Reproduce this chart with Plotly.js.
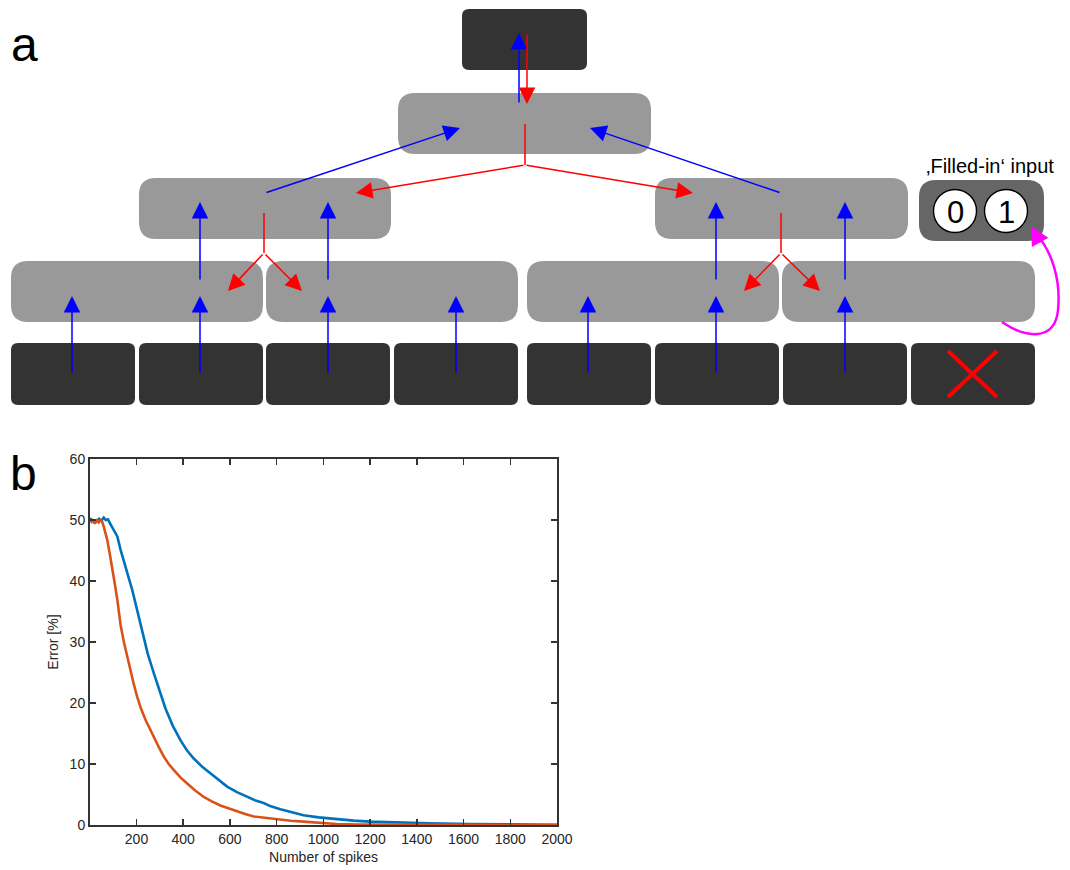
<!DOCTYPE html>
<html><head><meta charset="utf-8">
<script src="https://cdn.plot.ly/plotly-3.0.1.min.js"></script>
<style>html,body{margin:0;padding:0;background:#fff}#chart{width:1070px;height:870px}</style>
</head><body><div id="chart"></div>
<script>
// ---- panel b data ----
var blueX = [1,10,20,30,40,50,60,68,78,89,100,110,118,132,153,170,182,196,210,224,248,274,300,324,355,388,415,445,480,517,550,588,630,673,710,744,772,816,860,915,980,1058,1130,1200,1270,1342,1450,1628,1800,2000];
var blueY = [50.3,50.0,49.6,49.8,50.2,49.9,50.4,50.0,50.1,49.3,48.6,48.0,47.3,45.1,42.3,40.3,38.5,36.3,34.0,31.7,28.1,24.9,21.9,19.1,16.3,13.9,12.3,10.9,9.6,8.5,7.4,6.3,5.4,4.6,4.0,3.6,3.1,2.6,2.1,1.6,1.25,0.93,0.72,0.55,0.45,0.38,0.28,0.16,0.1,0.05];
var orangeX = [1,8,15,22,30,38,45,53,60,68,75,85,96,107,118,132,146,160,174,189,203,220,239,256,274,295,317,338,360,388,417,450,488,520,559,595,631,665,702,772,802,860,915,980,1058,1150,1300,1500,2000];
var orangeY = [50.2,49.7,50.1,49.4,49.9,49.6,50.0,49.7,48.9,47.8,46.7,44.6,42.3,39.6,36.9,32.8,30.0,27.6,25.0,23.0,21.0,19.0,17.2,15.8,14.5,12.8,11.2,10.0,9.0,7.8,6.8,5.7,4.6,3.9,3.2,2.7,2.2,1.8,1.4,1.05,0.9,0.7,0.55,0.35,0.16,0.08,0.04,0.02,0.0];
var xTicks = [200, 400, 600, 800, 1000, 1200, 1400, 1600, 1800, 2000];
var yTicks = [0, 10, 20, 30, 40, 50, 60];

// ---- panel a diagram (pixel coordinates) ----
var darkBoxes = [[462,9,587,70],[11,343,135,405],[139,343,263,405],[266,343,390,405],[394,343,518,405],[527,343,651,405],[655,343,779,405],[783,343,907,405],[911,343,1035,405]];
var grayBoxes = [[398,93,651,154],[139,178,391,239],[655,178,908,239],[11,261,263,322],[266,261,518,322],[527,261,779,322],[782,261,1035,322]];
var filledBox = [919,180,1044,241];
var circles = [[955,211,'0'],[1006,211,'1']];
var blueArrows = [[72,374,72,296],[200,374,200,296],[328,374,328,296],[456,374,456,296],[588,374,588,296],[716,374,716,296],[845,374,845,296],
  [200,281,200,202],[328,281,328,202],[716,281,716,202],[845,281,845,202],
  [265,193,460,128],[781,193,590,128],[519,104,519,33]];
var redArrows = [[527,33,527,104],[525,165,356,193],[525,165,693,193],[264,253,228,291],[264,253,302,291],[781,253,744,291],[781,253,820,291]];
var redLines = [[525,124,525,165],[264,213,264,253],[781,213,781,253]];
var crossLines = [[948,351,997,397],[948,397,997,351]];

function rr(b, r){
  var x0=b[0],y0=b[1],x1=b[2],y1=b[3];
  return 'M'+(x0+r)+','+y0+' L'+(x1-r)+','+y0+' Q'+x1+','+y0+' '+x1+','+(y0+r)+
    ' L'+x1+','+(y1-r)+' Q'+x1+','+y1+' '+(x1-r)+','+y1+' L'+(x0+r)+','+y1+
    ' Q'+x0+','+y1+' '+x0+','+(y1-r)+' L'+x0+','+(y0+r)+' Q'+x0+','+y0+' '+(x0+r)+','+y0+' Z';
}
var shapes = [];
darkBoxes.forEach(function(b){shapes.push({type:'path',xref:'x2',yref:'y2',path:rr(b,7),fillcolor:'#333333',line:{width:0},layer:'below'});});
grayBoxes.forEach(function(b){shapes.push({type:'path',xref:'x2',yref:'y2',path:rr(b,17),fillcolor:'#999999',line:{width:0},layer:'below'});});
shapes.push({type:'path',xref:'x2',yref:'y2',path:rr(filledBox,17),fillcolor:'#666666',line:{width:0},layer:'below'});
circles.forEach(function(c){shapes.push({type:'circle',xref:'x2',yref:'y2',x0:c[0]-21.5,x1:c[0]+21.5,y0:c[1]-21.5,y1:c[1]+21.5,fillcolor:'#ffffff',line:{color:'#000000',width:1.4}});});
redLines.forEach(function(l){shapes.push({type:'line',xref:'x2',yref:'y2',x0:l[0],y0:l[1],x1:l[2],y1:l[3],line:{color:'#ff0000',width:1.5}});});
crossLines.forEach(function(l){shapes.push({type:'line',xref:'x2',yref:'y2',x0:l[0],y0:l[1],x1:l[2],y1:l[3],line:{color:'#ff0000',width:4}});});
shapes.push({type:'path',xref:'x2',yref:'y2',path:'M1002,322 C1025,338 1055,342 1058,310 C1061,280 1052,252 1037,235',line:{color:'#ff00ff',width:2.5}});

var ann = [];
function arrow(a,col,w,s){
  ann.push({xref:'x2',yref:'y2',axref:'x2',ayref:'y2',x:a[2],y:a[3],ax:a[0],ay:a[1],text:'',showarrow:true,arrowhead:2,arrowsize:s,arrowwidth:w,arrowcolor:col,standoff:0,startstandoff:0});
}
blueArrows.forEach(function(a){arrow(a,'#0000ff',1.5,2.2);});
redArrows.forEach(function(a){arrow(a,'#ff0000',1.5,2.2);});
arrow([1041,244,1031,226],'#ff00ff',2.5,1.5);
circles.forEach(function(c){ann.push({xref:'x2',yref:'y2',x:c[0],y:c[1]+1,text:c[2],showarrow:false,font:{size:31,color:'#000',family:'Liberation Sans, Arial, sans-serif'},xanchor:'center',yanchor:'middle'});});
ann.push({xref:'x2',yref:'y2',x:990,y:166,text:'\u201AFilled-in\u2018 input',showarrow:false,font:{size:20,color:'#000',family:'Liberation Sans, Arial, sans-serif'},xanchor:'center',yanchor:'middle'});
ann.push({xref:'x2',yref:'y2',x:9,y:44,text:'a',showarrow:false,font:{size:48,color:'#000',family:'Liberation Sans, Arial, sans-serif'},xanchor:'left',yanchor:'middle'});
ann.push({xref:'x2',yref:'y2',x:8,y:473,text:'b',showarrow:false,font:{size:48,color:'#000',family:'Liberation Sans, Arial, sans-serif'},xanchor:'left',yanchor:'middle'});

var axCol = '#333333';
var data = [
  {x:[0],y:[0],xaxis:'x2',yaxis:'y2',mode:'markers',marker:{opacity:0},hoverinfo:'skip',showlegend:false},
  {x:blueX,y:blueY,mode:'lines',line:{color:'#0072BD',width:2.6},showlegend:false},
  {x:orangeX,y:orangeY,mode:'lines',line:{color:'#D95319',width:2.6},showlegend:false}
];
var layout = {
  width:1070,height:870,margin:{l:0,r:0,t:0,b:0},
  paper_bgcolor:'#ffffff',plot_bgcolor:'rgba(0,0,0,0)',
  font:{family:'Liberation Sans, Arial, sans-serif',color:'#262626',size:14},
  showlegend:false,
  xaxis:{domain:[90/1070,557/1070],range:[1,2000],tickvals:xTicks,ticks:'inside',ticklen:6,tickwidth:1.5,tickcolor:axCol,
    showline:true,linecolor:axCol,linewidth:2,mirror:'ticks',showgrid:false,zeroline:false,anchor:'y',
    tickfont:{size:14,color:'#262626'},title:{text:'Number of spikes',font:{size:14,color:'#262626'},standoff:6}},
  yaxis:{domain:[45/870,411/870],range:[0,60],tickvals:yTicks,ticks:'inside',ticklen:6,tickwidth:1.5,tickcolor:axCol,
    showline:true,linecolor:axCol,linewidth:2,mirror:'ticks',showgrid:false,zeroline:false,anchor:'x',
    tickfont:{size:14,color:'#262626'},title:{text:'Error [%]',font:{size:14,color:'#262626'},standoff:8}},
  xaxis2:{domain:[0,1],range:[0,1070],visible:false,fixedrange:true,anchor:'y2'},
  yaxis2:{domain:[0,1],range:[870,0],visible:false,fixedrange:true,anchor:'x2'},
  shapes:shapes,annotations:ann
};
Plotly.newPlot('chart',data,layout,{displayModeBar:false,staticPlot:true});
</script></body></html>
